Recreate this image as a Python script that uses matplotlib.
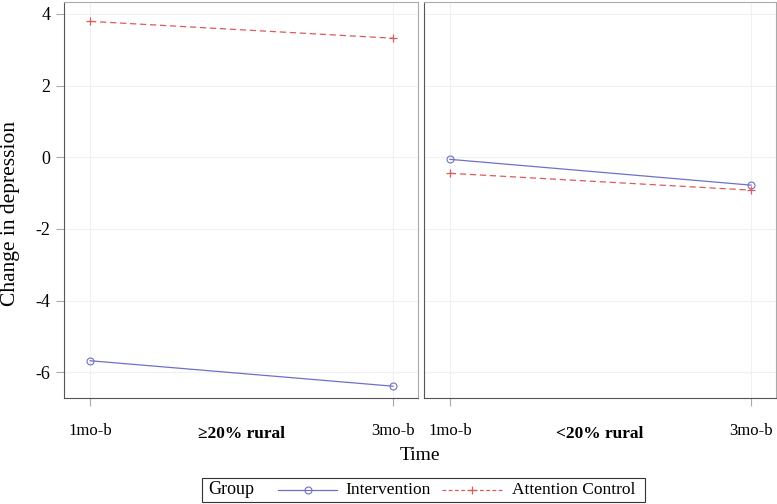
import matplotlib
matplotlib.use("Agg")
import matplotlib.pyplot as plt
from matplotlib.lines import Line2D
from matplotlib.patches import Rectangle

plt.rcParams['font.family'] = ['Liberation Serif', 'DejaVu Serif']

times = ['1mo-b', '3mo-b']
panels = ['\u226520% rural', '<20% rural']
intervention = [[-5.68, -6.39], [-0.06, -0.78]]
attention = [[3.79, 3.32], [-0.45, -0.92]]
yticks = [-6, -4, -2, 0, 2, 4]
groups = ['Intervention', 'Attention Control']

blue = '#7070c8'
red = '#d85c5c'
spine_dark = '#555555'
spine_light = '#aaaaaa'

fig = plt.figure(figsize=(7.77, 5.04), dpi=100)
ax1 = fig.add_axes([0.0824, 0.2103, 0.4556, 0.7857])
ax2 = fig.add_axes([0.5457, 0.2103, 0.4530, 0.7857], sharey=ax1)

for i, ax in enumerate([ax1, ax2]):
    x = list(range(len(times)))
    ax.plot(x, intervention[i], color=blue, lw=0.9, marker='o', ms=5,
            mfc='none', mec=blue, mew=0.8)
    ax.plot(x, attention[i], color=red, lw=0.9, ls=(0, (5, 3)), marker='+',
            ms=6, mec=red, mew=0.9)
    ax.set_xlim(-0.086, 1.083)
    ax.set_xticks(x)
    ax.set_xticklabels(times, fontsize=12)
    ax.grid(True, color='#f0f0f0', lw=0.8)
    ax.set_axisbelow(True)
    ax.tick_params(direction='out', length=6, color=spine_light, pad=12)
    for s in ['top', 'right']:
        ax.spines[s].set_color(spine_light)
    for s in ['left', 'bottom']:
        ax.spines[s].set_color(spine_dark)
    ax.text(0.5, -0.09, panels[i], transform=ax.transAxes, ha='center',
            va='center', fontsize=12.5, fontweight='bold')

ax1.set_ylim(-6.72, 4.33)
ax1.set_yticks(yticks)
ax1.set_yticklabels([str(v) for v in yticks], fontsize=13)
ax1.tick_params(axis='y', pad=4)
ax1.set_ylabel('Change in depression', fontsize=15.5)
ax1.yaxis.set_label_coords(-0.124, 0.467)
ax2.tick_params(axis='y', left=False, labelleft=False)

fig.text(0.541, 0.097, 'Time', ha='center', va='center', fontsize=14)

# legend drawn by hand: "Group" label followed by the two entries on one row
fig.patches.append(Rectangle((0.260, 0.004), 0.570, 0.0476, transform=fig.transFigure,
                             fill=False, edgecolor='#333333', lw=0.8))
ly = 0.0278
fig.text(0.2677, ly, 'Group', ha='left', va='center', fontsize=13)
fig.add_artist(Line2D([0.3578, 0.4337], [ly, ly], transform=fig.transFigure,
                      color=blue, lw=0.9))
fig.add_artist(Line2D([0.3958], [ly], transform=fig.transFigure, marker='o', ms=5,
                      mfc='none', mec=blue, mew=0.8, ls='none'))
fig.text(0.444, ly, groups[0], ha='left', va='center', fontsize=12.5)
fig.add_artist(Line2D([0.5689, 0.6461], [ly, ly], transform=fig.transFigure,
                      color=red, lw=0.9, ls=(0, (3, 2))))
fig.add_artist(Line2D([0.6075], [ly], transform=fig.transFigure, marker='+', ms=6,
                      mec=red, mew=0.9, ls='none'))
fig.text(0.659, ly, groups[1], ha='left', va='center', fontsize=12.5)

fig.savefig('out.png', dpi=100)
